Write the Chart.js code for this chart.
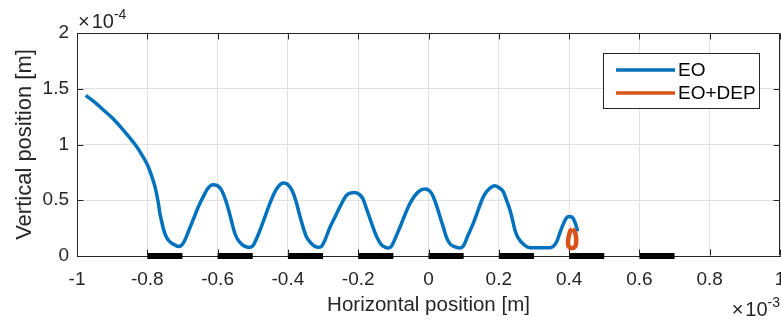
<!DOCTYPE html>
<html>
<head>
<meta charset="utf-8">
<script src="https://cdn.jsdelivr.net/npm/chart.js@4.4.1/dist/chart.umd.min.js"></script>
<style>
    html, body { margin: 0; padding: 0; background: #fff; }
    #wrap { width: 781px; height: 322px; }
</style>
</head>
<body>
<div id="wrap"><canvas id="trajChart"></canvas></div>
<script>
// Trajectories: x in units of 1e-3 m, y in units of 1e-4 m
const eoX = [-0.975, -0.95, -0.925, -0.90, -0.878, -0.855, -0.83, -0.815, -0.80, -0.79,
    -0.778, -0.77, -0.764, -0.757, -0.75, -0.742, -0.733, -0.722, -0.712, -0.703,
    -0.695, -0.683, -0.669, -0.655, -0.641, -0.628, -0.614, -0.600, -0.588, -0.576,
    -0.565, -0.557, -0.55, -0.541, -0.531, -0.52, -0.508, -0.50, -0.49, -0.47,
    -0.455, -0.441, -0.427, -0.413, -0.40, -0.387, -0.376, -0.366, -0.356, -0.347,
    -0.337, -0.325, -0.313, -0.305, -0.295, -0.28, -0.266, -0.252, -0.233, -0.209,
    -0.196, -0.186, -0.177, -0.167, -0.157, -0.147, -0.135, -0.124, -0.114, -0.105,
    -0.093, -0.081, -0.067, -0.053, -0.029, -0.01, 0.009, 0.022, 0.033, 0.043,
    0.052, 0.061, 0.071, 0.09, 0.099, 0.113, 0.127, 0.141, 0.156, 0.172,
    0.189, 0.202, 0.213, 0.222, 0.232, 0.24, 0.246, 0.253, 0.26, 0.274,
    0.289, 0.32, 0.346, 0.356, 0.365, 0.374, 0.384, 0.391, 0.398, 0.406,
    0.412, 0.418, 0.422, 0.424];
const eoY = [1.44, 1.38, 1.31, 1.24, 1.165, 1.08, 0.98, 0.905, 0.82, 0.74,
    0.62, 0.50, 0.38, 0.28, 0.20, 0.15, 0.12, 0.10, 0.085, 0.095,
    0.13, 0.22, 0.33, 0.44, 0.53, 0.605, 0.64, 0.63, 0.585, 0.49,
    0.37, 0.27, 0.195, 0.14, 0.105, 0.085, 0.078, 0.09, 0.15, 0.31,
    0.44, 0.55, 0.625, 0.655, 0.64, 0.58, 0.48, 0.36, 0.25, 0.17,
    0.125, 0.09, 0.078, 0.085, 0.14, 0.26, 0.35, 0.44, 0.545, 0.57,
    0.55, 0.51, 0.43, 0.34, 0.25, 0.17, 0.105, 0.08, 0.072, 0.09,
    0.17, 0.26, 0.37, 0.47, 0.575, 0.60, 0.56, 0.46, 0.35, 0.25,
    0.16, 0.11, 0.087, 0.072, 0.09, 0.19, 0.29, 0.41, 0.53, 0.60,
    0.63, 0.61, 0.575, 0.50, 0.41, 0.31, 0.23, 0.175, 0.14, 0.096,
    0.075, 0.073, 0.075, 0.09, 0.13, 0.21, 0.29, 0.335, 0.355, 0.352,
    0.335, 0.29, 0.25, 0.22];

// EO+DEP: particle trapped in a small closed orbit over the 0.4 electrode
const depX = [0.409, 0.414, 0.418, 0.420, 0.420, 0.418, 0.413, 0.408, 0.402, 0.398,
    0.397, 0.398, 0.401, 0.404, 0.409];
const depY = [0.238, 0.228, 0.20, 0.16, 0.12, 0.09, 0.074, 0.071, 0.075, 0.09,
    0.12, 0.16, 0.20, 0.228, 0.238];

const electrodeStarts = [-0.8, -0.6, -0.4, -0.2, 0, 0.2, 0.4, 0.6];
const electrodeWidth = 0.1;

const xTickLabels = ['-1', '-0.8', '-0.6', '-0.4', '-0.2', '0', '0.2', '0.4', '0.6', '0.8', '1'];
const yTickLabels = ['0', '0.5', '1', '1.5', '2'];
const seriesNames = ['EO', 'EO+DEP'];

const FONT = '"Liberation Sans", Helvetica, Arial, sans-serif';
const INK = '#262626';

const toPoints = (xs, ys) => xs.map((x, i) => ({ x: x, y: ys[i] }));

const electrodeSets = electrodeStarts.map(x0 => ({
    data: [{ x: x0, y: 0 }, { x: x0 + electrodeWidth, y: 0 }],
    borderColor: '#000000',
    borderWidth: 6,
    borderCapStyle: 'butt',
    pointRadius: 0,
    clip: false,
    order: 3
}));

// Box outline, inward ticks, exponent labels and legend, MATLAB style
const framePlugin = {
    id: 'frame',
    afterDraw(chart) {
        const ctx = chart.ctx;
        const a = chart.chartArea;
        const xs = chart.scales.x;
        const ys = chart.scales.y;
        const L = Math.round(a.left) + 0.5, R = Math.round(a.right) - 0.5;
        const T = Math.round(a.top) + 0.5, B = Math.round(a.bottom) - 0.5;
        ctx.save();
        ctx.strokeStyle = INK;
        ctx.lineWidth = 1;
        ctx.beginPath();
        ctx.moveTo(L, T); ctx.lineTo(R, T); ctx.lineTo(R, B);
        xs.ticks.forEach(t => {
            const px = Math.round(xs.getPixelForValue(t.value)) + 0.5;
            ctx.moveTo(px, B); ctx.lineTo(px, B - 6);
            ctx.moveTo(px, T); ctx.lineTo(px, T + 6);
        });
        ys.ticks.forEach(t => {
            const py = Math.round(ys.getPixelForValue(t.value)) + 0.5;
            ctx.moveTo(L, py); ctx.lineTo(L + 6, py);
            ctx.moveTo(R, py); ctx.lineTo(R - 6, py);
        });
        ctx.stroke();

        // exponent multipliers
        const drawExp = (x, y, exp, alignRight) => {
            ctx.fillStyle = INK;
            ctx.textBaseline = 'alphabetic';
            ctx.textAlign = 'left';
            ctx.font = '20px ' + FONT;
            const wx = ctx.measureText('\u00d7').width;
            const w10 = ctx.measureText('10').width;
            ctx.font = '14px ' + FONT;
            const we = ctx.measureText(exp).width;
            const x0 = alignRight ? x - (wx + 2 + w10 + we) : x;
            ctx.font = '20px ' + FONT;
            ctx.fillText('\u00d7', x0, y);
            ctx.fillText('10', x0 + wx + 2, y);
            ctx.font = '14px ' + FONT;
            ctx.fillText(exp, x0 + wx + 2 + w10, y - 9);
        };
        drawExp(a.left + 1, 28, '-4', false);
        drawExp(a.right, 316, '-3', true);

        // legend
        ctx.fillStyle = '#ffffff';
        ctx.fillRect(603.5, 53.5, 156, 55);
        ctx.strokeStyle = INK;
        ctx.strokeRect(603.5, 53.5, 156, 55);
        const rows = [70, 93];
        seriesNames.forEach((name, i) => {
            const ds = chart.data.datasets.find(d => d.label === name);
            ctx.strokeStyle = ds.borderColor;
            ctx.lineWidth = 3.5;
            ctx.beginPath();
            ctx.moveTo(616, rows[i]);
            ctx.lineTo(675, rows[i]);
            ctx.stroke();
            ctx.fillStyle = '#000000';
            ctx.font = '19px ' + FONT;
            ctx.textBaseline = 'middle';
            ctx.textAlign = 'left';
            ctx.fillText(name, 678, rows[i] + 1);
        });
        ctx.restore();
    }
};

const ctx = document.getElementById('trajChart').getContext('2d');
const trajChart = new Chart(ctx, {
    type: 'line',
    data: {
        datasets: [
            {
                label: seriesNames[1],
                data: toPoints(depX, depY),
                borderColor: '#D95319',
                borderWidth: 4.5,
                tension: 0.4,
                borderJoinStyle: 'round',
                pointRadius: 0,
                order: 0
            },
            {
                label: seriesNames[0],
                data: toPoints(eoX, eoY),
                borderColor: '#0072BD',
                borderWidth: 3.5,
                cubicInterpolationMode: 'monotone',
                borderJoinStyle: 'round',
                pointRadius: 0,
                order: 1
            },
            ...electrodeSets
        ]
    },
    options: {
        responsive: true,
        maintainAspectRatio: false,
        animation: false,
        events: [],
        layout: { padding: { top: 33, right: 1, left: 0, bottom: 0 } },
        plugins: {
            legend: { display: false },
            tooltip: { enabled: false }
        },
        scales: {
            x: {
                type: 'linear',
                min: -1,
                max: 1,
                afterFit: s => {
                    s.height = 66;
                    s.paddingLeft = 0;
                    s.paddingRight = 0;
                },
                grid: { color: '#e2e2e2', drawTicks: false },
                border: { color: INK, width: 1 },
                ticks: {
                    stepSize: 0.2,
                    padding: 12,
                    color: INK,
                    font: { family: FONT, size: 19 },
                    maxRotation: 0,
                    callback: (v, i) => xTickLabels[i]
                },
                title: {
                    display: true,
                    text: 'Horizontal position [m]',
                    color: INK,
                    font: { family: FONT, size: 20.5 },
                    padding: { top: 0, bottom: 4 }
                }
            },
            y: {
                min: 0,
                max: 2,
                afterFit: s => {
                    s.width = 77;
                    s.paddingTop = 0;
                    s.paddingBottom = 0;
                },
                grid: { color: '#e2e2e2', drawTicks: false },
                border: { color: INK, width: 1 },
                ticks: {
                    stepSize: 0.5,
                    padding: 8,
                    color: INK,
                    font: { family: FONT, size: 19 },
                    callback: (v, i) => yTickLabels[i]
                },
                title: {
                    display: true,
                    text: 'Vertical position [m]',
                    color: INK,
                    font: { family: FONT, size: 22 },
                    padding: { top: 12, bottom: 0 }
                }
            }
        }
    },
    plugins: [framePlugin]
});
</script>
</body>
</html>
